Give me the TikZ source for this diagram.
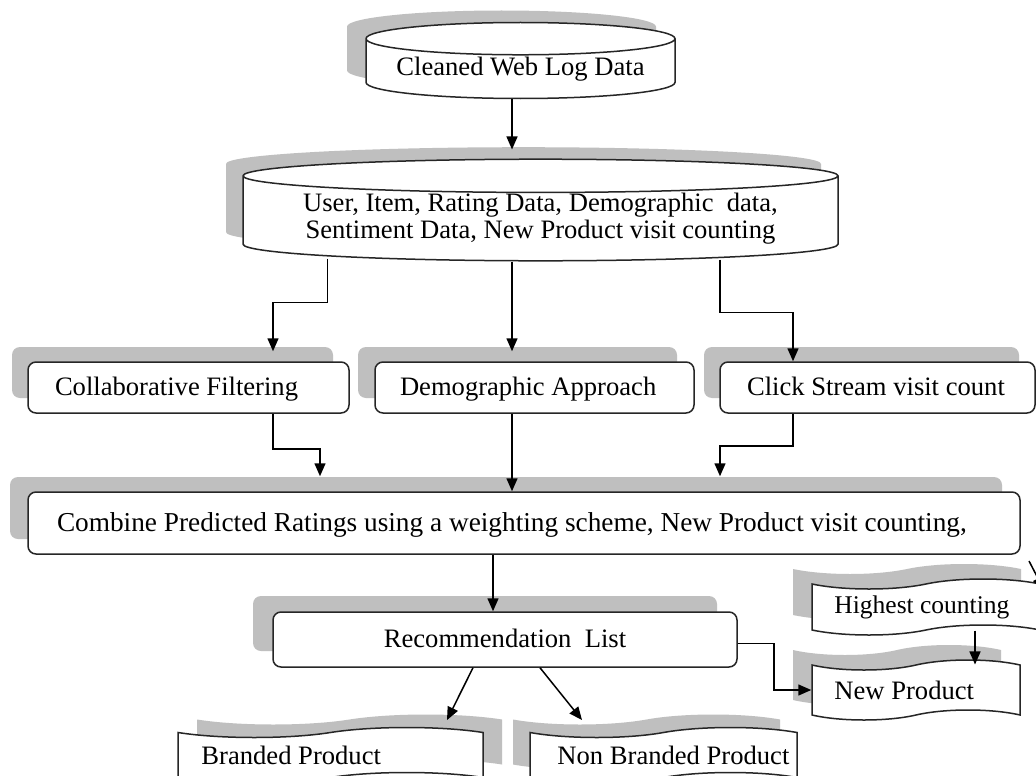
\documentclass[tikz,border=0pt]{standalone}
\usepackage{fontspec}
\setmainfont{Liberation Serif}
\usetikzlibrary{shapes.geometric,shapes.symbols,shadows,arrows.meta}

\begin{document}
\begin{tikzpicture}[x=1pt,y=-1pt,
    font=\fontsize{26.6}{27.5}\selectfont,
    >={Triangle[length=13pt,width=11pt]},
    flow/.style={line width=1.5pt,->},
    greyback/.style 2 args={general shadow={fill=black!25,draw=none,shadow xshift=#1,shadow yshift=#2}},
    datadrum/.style={cylinder,shape border rotate=90,anchor=shape center,draw=black!85,line width=1.5pt,fill=white,align=center,inner sep=0pt},
    stagebox/.style={rectangle,rounded corners=8pt,draw=black!85,line width=1.5pt,fill=white,inner ysep=2pt,text height=20pt,text depth=4pt},
    tapebox/.style={tape,tape bend top=in and out,tape bend bottom=in and out,tape bend height=10pt,draw=black!85,line width=1.5pt,fill=white,inner sep=0pt}]
    \useasboundingbox (0,0) rectangle (1036,776);
    \clip (0,0) rectangle (1036,776);
    \fill[white] (0,0) rectangle (1036,776);
    % data stores
    \node[datadrum,greyback={-19pt}{12pt},aspect=0.13,minimum width=309pt,minimum height=76pt] (weblog) at (520.5,60.5) {Cleaned Web Log Data};
    \node[datadrum,greyback={-17pt}{12pt},aspect=0.07,minimum width=595pt,minimum height=100pt,
      font=\fontsize{26.6}{26.8}\selectfont] (ratingdb) at (540.5,210) {User, Item, Rating Data, Demographic\ \ data,\\Sentiment Data, New Product visit counting};
    % approaches
    \node[stagebox,greyback={-16pt}{15pt},minimum height=51pt,inner xsep=27pt] (collab) at (188.5,387.5) {\makebox[267pt][l]{Collaborative Filtering}};
    \node[stagebox,greyback={-17pt}{15pt},minimum height=51pt,inner xsep=25pt] (demo) at (534.5,387.5) {\makebox[269pt][l]{Demographic Approach}};
    \node[stagebox,greyback={-16pt}{15pt},minimum height=51pt,inner xsep=27pt] (click) at (877.5,387.5) {\makebox[261pt][l]{Click Stream visit count}};
    \node[stagebox,greyback={-18pt}{15pt},minimum height=62pt,inner xsep=29pt,font=\fontsize{27.3}{28}\selectfont] (combine) at (524,523) {\makebox[934pt][l]{Combine Predicted Ratings using a weighting scheme, New Product visit counting,}};
    \node[stagebox,greyback={-20pt}{16pt},minimum width=464pt,minimum height=55pt] (rec) at (505,639.5) {Recommendation\ \ List};
    % product lists
    \node[tapebox,greyback={-19pt}{15pt},minimum width=228pt,minimum height=56pt,
      label={[anchor=west,xshift=23pt,inner sep=0pt,font=\fontsize{25.5}{26}\selectfont]west:Highest counting}] (highest) at (926,607) {};
    \node[tapebox,greyback={-19pt}{15pt},minimum width=208pt,minimum height=60pt,
      label={[anchor=west,xshift=23pt,inner sep=0pt]west:New Product}] (newprod) at (916,690) {};
    \node[tapebox,greyback={19pt}{13pt},minimum width=305pt,minimum height=55pt,
      label={[anchor=west,xshift=24pt,inner sep=0pt]west:Branded Product}] (branded) at (330.5,755) {};
    \node[tapebox,greyback={-17pt}{13pt},minimum width=267pt,minimum height=55pt,
      label={[anchor=west,xshift=28pt,inner sep=0pt]west:Non Branded Product}] (nonbranded) at (663.5,755) {};
    % connectors
    \draw[flow,shorten >=9pt] ([xshift=-8.5pt]weblog.south) -- ([xshift=-28.5pt]ratingdb.north);
    \draw[flow,shorten >=10pt] ([xshift=-213pt,yshift=3pt]ratingdb.south) -- ++(0,44) -| ([xshift=84.5pt]collab.north);
    \draw[flow,shorten >=10pt] ([xshift=-28.5pt]ratingdb.south) -- ([xshift=-22.5pt]demo.north);
    \draw[flow] ([xshift=179.5pt,yshift=2pt]ratingdb.south) -- ++(0,53) -| ([xshift=-84.5pt]click.north);
    \draw[flow,shorten >=15pt] ([xshift=84.5pt]collab.south) -- ++(0,35) -| ([xshift=-204pt]combine.north);
    \draw[flow] ([xshift=-22.5pt]demo.south) -- ([xshift=-12pt]combine.north);
    \draw[flow,shorten >=15pt] ([xshift=-84.5pt]click.south) -- ++(0,32) -| ([xshift=196pt]combine.north);
    \draw[flow] ([xshift=-31pt]combine.south) -- ([xshift=-12pt]rec.north);
    \draw[flow] ([xshift=-32pt]rec.south) -- ([xshift=116.5pt,yshift=12pt]branded.north);
    \draw[flow] ([xshift=35pt]rec.south) -- ([xshift=-81.5pt,yshift=12pt]nonbranded.north);
    \draw[flow] ([yshift=-4pt]rec.east) -- ++(36,0) |- (newprod.west);
    \draw[flow] ([xshift=49pt]highest.south) -- ([xshift=59pt]newprod.north);
    \coordinate (offright) at (1044,590);
    \draw[flow] (1029,561) -- (offright);
\end{tikzpicture}
\end{document}
